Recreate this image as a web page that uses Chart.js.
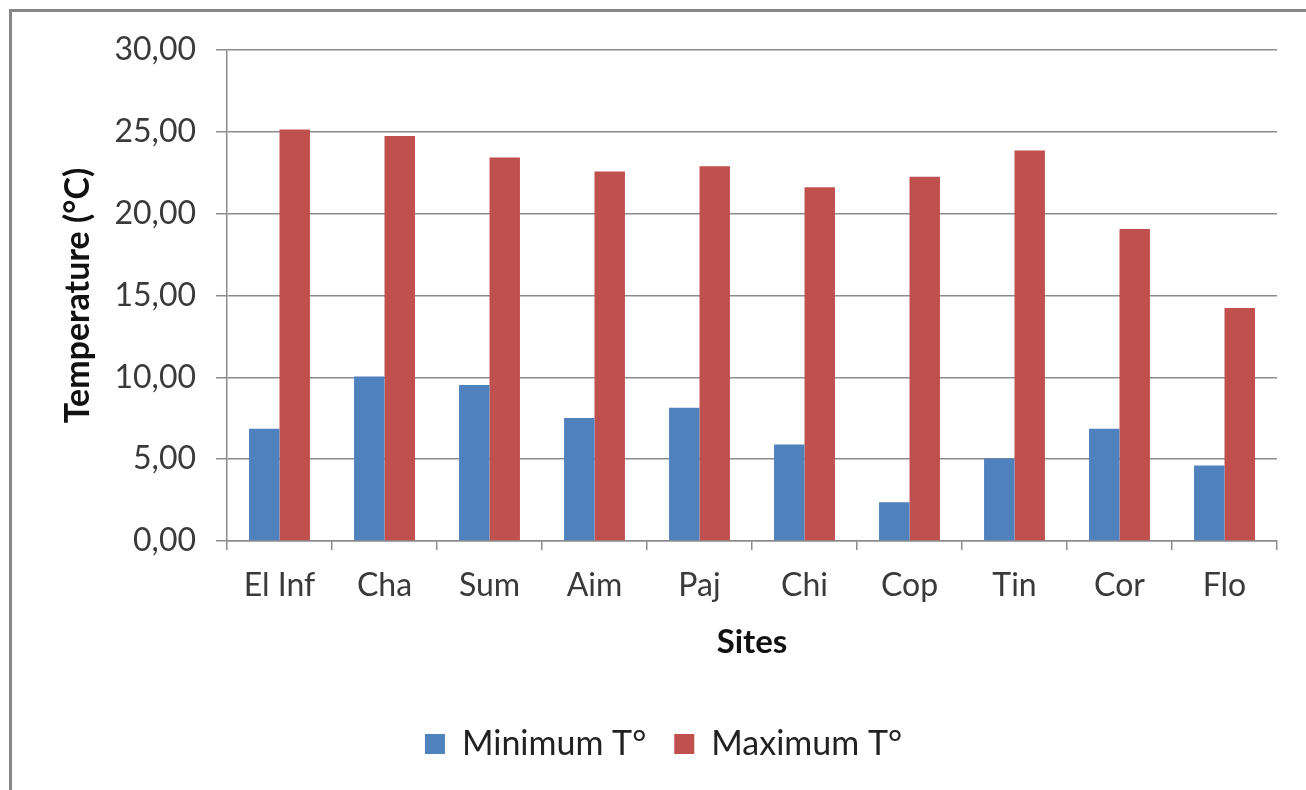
<!DOCTYPE html>
<html>
<head>
<meta charset="utf-8">
<script src="https://cdn.jsdelivr.net/npm/chart.js@4/dist/chart.umd.min.js"></script>
<style>
  html, body { margin: 0; padding: 0; background: #ffffff; }
  #wrap { width: 1306px; height: 790px; }
</style>
</head>
<body>
<div id="wrap"><canvas id="chart" width="1306" height="790"></canvas></div>
<script>
// Sites along the horizontal axis
const sites = ['El Inf', 'Cha', 'Sum', 'Aim', 'Paj', 'Chi', 'Cop', 'Tin', 'Cor', 'Flo'];

// Temperatures (°C) per site
const minTemp = [6.86, 10.05, 9.53, 7.51, 8.14, 5.90, 2.37, 5.04, 6.86, 4.61];
const maxTemp = [25.15, 24.74, 23.43, 22.57, 22.90, 21.62, 22.25, 23.86, 19.06, 14.23];

// Value axis
const yMin = 0;
const yMax = 30;
const yStep = 5;

const FONT = 'Lato, Carlito, Calibri, sans-serif';
const TEXT = '#3a3a3a';
const GRID = '#8c8c8c';

// Grey frame around the whole chart object
const framePlugin = {
  id: 'frame',
  beforeDraw(chart) {
    const ctx = chart.ctx;
    ctx.save();
    ctx.fillStyle = '#ffffff';
    ctx.fillRect(0, 0, chart.width, chart.height);
    ctx.strokeStyle = '#868686';
    ctx.lineWidth = 3;
    ctx.beginPath();
    ctx.moveTo(10.5, chart.height + 5);
    ctx.lineTo(10.5, 10.5);
    ctx.lineTo(chart.width + 5, 10.5);
    ctx.stroke();
    ctx.restore();
  }
};

new Chart(document.getElementById('chart'), {
  type: 'bar',
  data: {
    labels: sites,
    datasets: [
      {
        label: 'Minimum T°',
        data: minTemp,
        backgroundColor: '#4F81BD',
        borderWidth: 0
      },
      {
        label: 'Maximum T°',
        data: maxTemp,
        backgroundColor: '#C0504D',
        borderWidth: 0
      }
    ]
  },
  plugins: [framePlugin],
  options: {
    responsive: false,
    devicePixelRatio: 1,
    animation: false,
    layout: { padding: { left: 50, top: 50, right: 29, bottom: 19 } },
    datasets: { bar: { categoryPercentage: 0.58, barPercentage: 1.0 } },
    plugins: {
      tooltip: { enabled: false },
      legend: {
        position: 'bottom',
        labels: {
          font: { family: FONT, size: 34 },
          color: '#222222',
          boxWidth: 20,
          boxHeight: 20,
          padding: 28
        }
      }
    },
    scales: {
      x: {
        grid: {
          display: true,
          offset: true,
          drawOnChartArea: false,
          drawTicks: true,
          tickLength: 9,
          color: GRID,
          lineWidth: 1.5
        },
        border: { display: true, color: GRID, width: 1.5 },
        ticks: {
          font: { family: FONT, size: 32 },
          color: TEXT,
          padding: 16,
          maxRotation: 0,
          autoSkip: false
        },
        title: {
          display: true,
          text: 'Sites',
          font: { family: FONT, size: 33, weight: 'bold' },
          color: '#111111',
          padding: { top: 8, bottom: 37 }
        },
        afterFit(scale) { scale.height = 158; }
      },
      y: {
        min: yMin,
        max: yMax,
        ticks: {
          stepSize: yStep,
          font: { family: FONT, size: 32 },
          color: TEXT,
          padding: 20,
          callback: v => Number(v).toFixed(2).replace('.', ',')
        },
        grid: {
          color: GRID,
          lineWidth: 1.5,
          drawTicks: true,
          tickLength: 11
        },
        border: { display: true, color: GRID, width: 1.5 },
        title: {
          display: true,
          text: 'Temperature (°C)',
          font: { family: FONT, size: 34, weight: 'bold' },
          color: '#111111',
          padding: { top: 8, bottom: 8 }
        },
        afterFit(scale) { scale.width = 177; }
      }
    }
  }
});
</script>
</body>
</html>
